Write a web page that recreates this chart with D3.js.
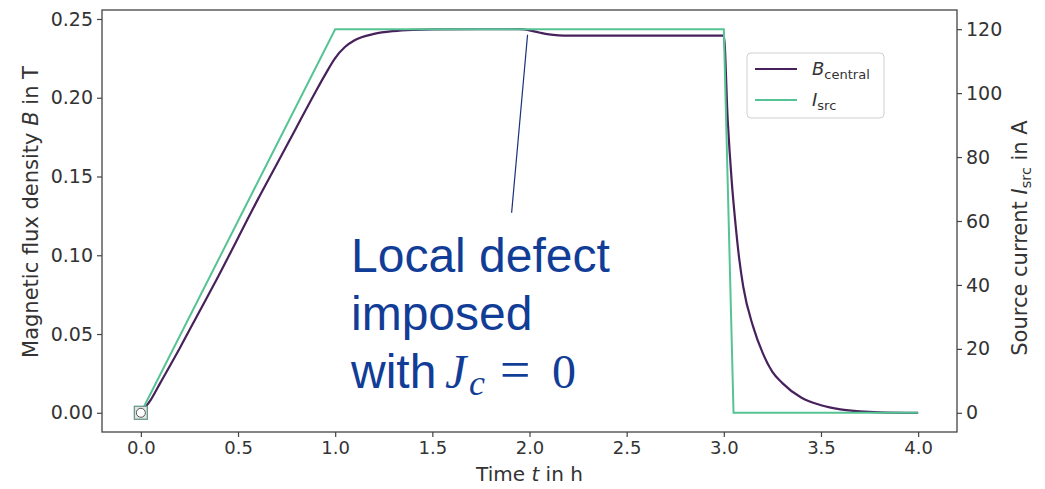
<!DOCTYPE html>
<html><head><meta charset="utf-8">
<script src="https://cdn.jsdelivr.net/npm/d3@7"></script>
<style>
html,body{margin:0;padding:0;background:#fff;}
svg text{font-family:"DejaVu Sans",sans-serif;}
</style></head>
<body><svg id="chart" width="1045" height="489"></svg>
<script>
// ---- data ----
const timeTicks = [0,0.5,1,1.5,2,2.5,3,3.5,4];
const bTicks = [0,0.05,0.10,0.15,0.20,0.25];
const iTicks = [0,20,40,60,80,100,120];

const bTime = [0,0.05,0.1,0.2,0.3,0.4,0.5,0.6,0.7,0.8,0.9,0.95,1.0,1.05,1.1,1.2,1.3,1.4,1.5,1.95,2.0,2.05,2.1,2.15,2.2,3.0,3.02,3.04,3.06,3.08,3.1,3.15,3.2,3.25,3.3,3.4,3.5,3.6,3.7,3.8,4.0];
const bCentral = [0,0.008,0.019,0.041,0.064,0.087,0.111,0.135,0.158,0.181,0.204,0.215,0.2252,0.2322,0.2365,0.2405,0.2423,0.2431,0.2434,0.2435,0.2428,0.2414,0.2402,0.2396,0.2394,0.2394,0.186,0.148,0.120,0.097,0.080,0.055,0.038,0.026,0.019,0.0095,0.0048,0.0022,0.0009,0.0003,0];

const iTime = [0,1.0,3.0,3.05,4.0];
const iSrc = [0,120,120,0,0];

const annotation = {tTop:1.99, bTop:0.240, tBottom:1.908, bBottom:0.127};

// ---- layout ----
const svg = d3.select("#chart");
const L=102, R=957, T=10, B=432;
const x = d3.scaleLinear().domain([-0.2,4.2]).range([L,R]);
const yB = d3.scaleLinear().domain([-0.0122,0.2557]).range([B,T]);
const yI = d3.scaleLinear().domain([-6,126]).range([B,T]);

const txt = "#333";
const purple = "#47215c", green = "#56c394";

// annotation text box (behind)
svg.append("rect").attr("x",343).attr("y",217).attr("width",297).attr("height",189).attr("fill","#fff");

// lines
const bData = bTime.map((t,i)=>[t,bCentral[i]]);
const iData = iTime.map((t,i)=>[t,iSrc[i]]);
svg.append("path").datum(bData)
  .attr("d", d3.line().x(d=>x(d[0])).y(d=>yB(d[1])).curve(d3.curveMonotoneX))
  .attr("fill","none").attr("stroke",purple).attr("stroke-width",2.2);
svg.append("path").datum(iData)
  .attr("d", d3.line().x(d=>x(d[0])).y(d=>yI(d[1])))
  .attr("fill","none").attr("stroke",green).attr("stroke-width",2);

// origin marker
svg.append("rect").attr("x",x(0)-6.5).attr("y",yB(0)-6.5).attr("width",13).attr("height",13)
  .attr("fill","#e4e4e4").attr("stroke","#6a9a8c").attr("stroke-width",1.3);
svg.append("circle").attr("cx",x(0)).attr("cy",yB(0)).attr("r",4.5)
  .attr("fill","#fff").attr("stroke","#555").attr("stroke-width",1);

// axes
const gx = svg.append("g").attr("transform",`translate(0,${B})`)
  .call(d3.axisBottom(x).tickValues(timeTicks).tickFormat(d3.format(".1f")).tickSize(5).tickPadding(4));
const gl = svg.append("g").attr("transform",`translate(${L},0)`)
  .call(d3.axisLeft(yB).tickValues(bTicks).tickFormat(d3.format(".2f")).tickSize(5).tickPadding(4));
const gr = svg.append("g").attr("transform",`translate(${R},0)`)
  .call(d3.axisRight(yI).tickValues(iTicks).tickFormat(d3.format("d")).tickSize(5).tickPadding(4));
[[gx,18],[gl,19],[gr,19]].forEach(([g,fs])=>{
  g.select(".domain").remove();
  g.selectAll(".tick line").attr("stroke","#444").attr("stroke-width",1.2);
  g.selectAll(".tick text").attr("fill",txt).style("font-size",fs+"px").style("font-family","DejaVu Sans");
});
// frame
svg.append("rect").attr("x",L).attr("y",T).attr("width",R-L).attr("height",B-T)
  .attr("fill","none").attr("stroke","#444").attr("stroke-width",1.3);

// axis labels
const xl = svg.append("text").attr("x",(L+R)/2).attr("y",481).attr("text-anchor","middle")
  .attr("fill",txt).style("font-size","20px");
xl.append("tspan").text("Time ");
xl.append("tspan").attr("font-style","italic").text("t");
xl.append("tspan").text(" in h");

const yl = svg.append("text").attr("transform","translate(38,212) rotate(-90)").attr("text-anchor","middle")
  .attr("fill",txt).style("font-size","21px");
yl.append("tspan").text("Magnetic flux density ");
yl.append("tspan").attr("font-style","italic").text("B");
yl.append("tspan").text(" in T");

const yr = svg.append("text").attr("transform","translate(1027,238) rotate(-90)").attr("text-anchor","middle")
  .attr("fill",txt).style("font-size","21px");
yr.append("tspan").text("Source current ");
yr.append("tspan").attr("font-style","italic").text("I");
yr.append("tspan").attr("dy",4).style("font-size","14.5px").text("src");
yr.append("tspan").attr("dy",-4).text(" in A");

// legend
const lg = svg.append("g");
lg.append("rect").attr("x",747).attr("y",53).attr("width",137).attr("height",65).attr("rx",4)
  .attr("fill","#fff").attr("fill-opacity",0.8).attr("stroke","#d0d0d0").attr("stroke-width",1);
const legendItems = [{c:purple, main:"B", sub:"central", y:69},{c:green, main:"I", sub:"src", y:100}];
legendItems.forEach(it=>{
  lg.append("line").attr("x1",755).attr("x2",797).attr("y1",it.y).attr("y2",it.y)
    .attr("stroke",it.c).attr("stroke-width",2);
  const t = lg.append("text").attr("x",812).attr("y",it.y+6).attr("fill",txt).style("font-size","18px");
  t.append("tspan").attr("font-style","italic").text(it.main);
  t.append("tspan").attr("dy",4).style("font-size","13px").text(it.sub);
});

// annotation line
svg.append("line")
  .attr("x1",x(annotation.tTop)).attr("y1",yB(annotation.bTop))
  .attr("x2",x(annotation.tBottom)).attr("y2",yB(annotation.bBottom))
  .attr("stroke","#1b2f7a").attr("stroke-width",1.2);

// annotation text
const blue = "#123d97";
const af = "48px";
const sans = "Liberation Sans, Arial, sans-serif", serif = "Liberation Serif, serif";
svg.append("text").attr("x",351).attr("y",272).attr("fill",blue)
  .style("font-family",sans).style("font-size",af).text("Local defect");
svg.append("text").attr("x",351).attr("y",330).attr("fill",blue)
  .style("font-family",sans).style("font-size",af).text("imposed");
svg.append("text").attr("x",351).attr("y",388).attr("fill",blue)
  .style("font-family",sans).style("font-size",af).text("with");
const m = svg.append("text").attr("x",445).attr("y",388).attr("fill",blue)
  .style("font-family",serif).style("font-size","48px");
m.append("tspan").style("font-style","italic").text("J");
m.append("tspan").attr("x",469).attr("dy",7).style("font-style","italic").style("font-size","36px").text("c");
m.append("tspan").attr("x",500).attr("dy",-7).style("font-size","54px").text("=");
m.append("tspan").attr("x",552).text("0");
</script></body></html>
